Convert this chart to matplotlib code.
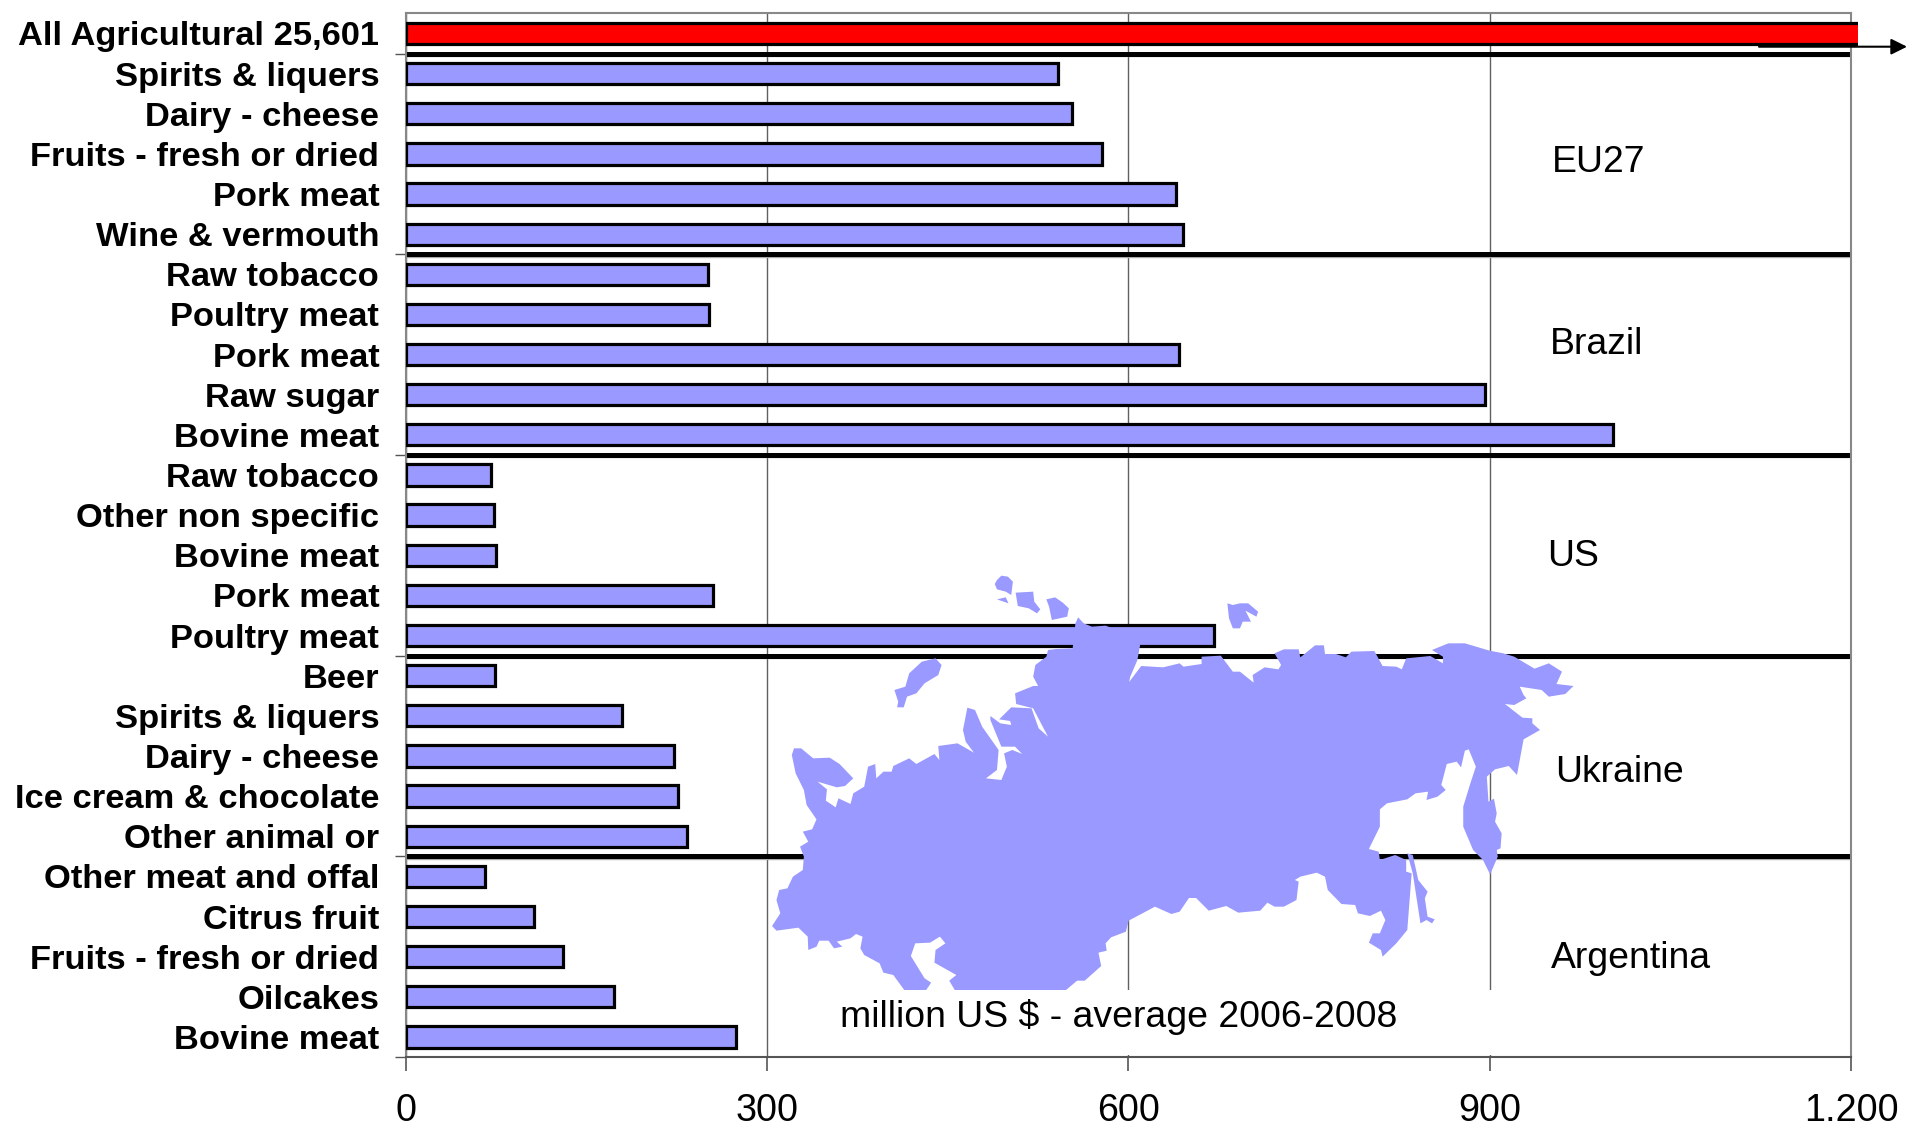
import numpy as np
import matplotlib
matplotlib.use('Agg')
import matplotlib.pyplot as plt
from matplotlib.patches import Polygon, Rectangle

plt.rcParams['font.family'] = ['Liberation Sans', 'DejaVu Sans']

W, H = 1907, 1127

# categories, top to bottom
labels = ['All Agricultural 25,601',
          'Spirits & liquers', 'Dairy - cheese', 'Fruits - fresh or dried', 'Pork meat', 'Wine & vermouth',
          'Raw tobacco', 'Poultry meat', 'Pork meat', 'Raw sugar', 'Bovine meat',
          'Raw tobacco', 'Other non specific', 'Bovine meat', 'Pork meat', 'Poultry meat',
          'Beer', 'Spirits & liquers', 'Dairy - cheese', 'Ice cream & chocolate', 'Other animal or',
          'Other meat and offal', 'Citrus fruit', 'Fruits - fresh or dried', 'Oilcakes', 'Bovine meat']
values = [25601,
          542, 553, 578, 640, 645,
          251, 252, 642, 896, 1002,
          71, 73, 75, 255, 671,
          74, 180, 223, 226, 234,
          66, 107, 131, 173, 274]
x_ticks = [0, 300, 600, 900, 1200]
x_tick_labels = ['0', '300', '600', '900', '1.200']
separators = [0.5, 5.5, 10.5, 15.5, 20.5, 25.5]

regions = ['EU27', 'Brazil', 'US', 'Ukraine', 'Argentina']
region_x = [1552, 1550, 1547, 1555, 1551]
region_y = [163, 345, 556, 773, 958]

map_main = [(580,172),(590,190),(605,200),(630,197),(660,215),(693,255),(688,300),(675,350),(672,368),(695,318),(735,322),(765,310),(772,320),(805,312),(805,290),(840,287),(862,335),(875,335),(900,368),(898,345),(920,322),(945,328),(950,315),(938,280),(955,268),(982,268),(985,292),(1012,256),(1028,256),(1030,282),(1050,282),(1068,292),(1078,275),(1120,273),(1135,318),(1160,320),(1170,328),(1178,295),(1222,288),(1245,310),(1245,290),(1225,270),(1255,250),(1285,250),(1330,272),(1355,280),(1375,290),(1412,326),(1438,310),(1462,335),(1452,372),(1483,378),(1468,402),(1438,410),(1425,390),(1385,380),(1392,405),(1397,415),(1375,435),(1358,432),(1390,473),(1408,475),(1408,490),(1422,510),(1392,538),(1380,645),(1365,618),(1340,628),(1325,650),(1328,725),(1338,716),(1343,760),(1340,785),(1352,820),(1350,865),(1343,870),(1345,890),(1331,943),(1318,900),(1300,870),(1282,800),(1282,740),(1295,670),(1305,620),(1292,568),(1285,572),(1278,622),(1270,605),(1252,612),(1242,675),(1250,690),(1235,710),(1215,720),(1218,695),(1195,700),(1180,718),(1143,730),(1130,748),(1130,800),(1110,867),(1128,875),(1130,900),(1158,885),(1178,900),(1178,935),(1188,940),(1180,1110),(1160,1150),(1135,1190),(1132,1170),(1110,1148),(1117,1120),(1130,1120),(1140,1080),(1132,1052),(1112,1068),(1090,1060),(1085,1035),(1060,1032),(1035,990),(1030,950),(1015,938),(985,950),(975,960),(982,965),(978,1020),(955,1040),(938,1040),(925,1028),(912,1052),(872,1058),(850,1038),(818,1052),(795,1014),(782,1014),(765,1055),(750,1062),(720,1040),(672,1082),(667,1115),(640,1132),(630,1150),(632,1172),(617,1178),(622,1218),(592,1262),(578,1262),(558,1290),(355,1290),(345,1262),(358,1245),(318,1208),(320,1170),(338,1150),(328,1130),(310,1148),(283,1150),(275,1188),(300,1255),(312,1268),(303,1290),(263,1290),(243,1245),(225,1238),(218,1210),(190,1185),(183,1165),(187,1130),(175,1122),(165,1135),(140,1145),(150,1160),(135,1165),(125,1142),(108,1142),(103,1160),(88,1170),(87,1130),(70,1103),(30,1112),(22,1098),(37,1060),(30,1020),(35,990),(50,985),(60,950),(78,930),(80,890),(73,860),(88,845),(78,815),(95,808),(103,778),(85,735),(80,690),(65,640),(58,585),(62,565),(75,565),(97,595),(127,593),(145,612),(170,655),(155,678),(140,682),(105,665),(122,688),(120,722),(138,742),(143,715),(165,732),(170,700),(190,680),(197,620),(210,612),(212,655),(225,635),(240,635),(243,618),(272,595),(285,612),(318,582),(327,600),(325,558),(360,550),(390,578),(375,545),(370,510),(378,443),(392,450),(405,500),(435,570),(432,630),(412,655),(440,660),(450,620),(445,580),(460,570),(478,582),(465,560),(440,560),(420,480),(420,468),(438,490),(458,495),(456,483),(436,478),(458,442),(495,445),(508,505),(525,530),(498,445),(467,432),(465,400),(498,378),(507,378),(498,350),(502,315),(522,290),(525,270),(540,267),(570,265),(575,190)]
map_islands = [
    [(432,60),(440,47),(452,50),(461,65),(458,105),(448,95),(432,88),(428,72)],
    [(432,118),(448,112),(453,130)],
    [(466,98),(498,95),(500,125),(511,148),(505,160),(490,145),(470,138)],
    [(522,118),(538,112),(552,128),(563,145),(560,170),(532,180),(527,140)],
    [(852,130),(862,135),(875,130),(890,130),(908,155),(905,170),(885,152),(895,185),(880,185),(875,205),(862,205),(855,175)],
    [(320,295),(331,315),(325,345),(300,370),(285,400),(268,410),(262,442),(250,442),(252,425),(245,390),(265,380),(272,340),(295,305)],
    [(1180,880),(1190,885),(1200,960),(1217,995),(1212,1015),(1217,1070),(1230,1078),(1225,1090),(1215,1080),(1204,1090),(1190,940)],
]


def fx(px):
    return px / W


def fy(py):
    return 1 - py / H


def crop_to_fig(points):
    # crop coordinates -> figure fraction
    return [(fx(760 + a / 1.823), fy(560 + b / 3)) for a, b in points]


fig = plt.figure(figsize=(W / 100, H / 100), dpi=100)
ax = fig.add_axes([fx(405.6), fy(1057), fx(1851 - 405.6), (1057 - 13.4) / H])

pos = np.arange(len(labels))
colors = ['#FF0000'] + ['#9999FF'] * (len(labels) - 1)
bars = ax.barh(pos, values, height=0.53, color=colors, edgecolor='black', linewidth=2.3, zorder=3)

ax.set_xlim(0, 1200)
ax.set_ylim(len(labels) - 0.5, -0.5)

# red bar runs off the scale, cut just past the axes
clip = Rectangle((0, 0), 1.0045, 1, transform=ax.transAxes)
bars[0].set_clip_path(clip)

ax.set_axisbelow(True)
ax.xaxis.grid(True, color='#606060', linewidth=1)
for s in separators[:-1]:
    ax.plot([0, 1200], [s + 0.06, s + 0.06], color='#aaaaaa', linewidth=1, zorder=2)
    ax.plot([0, 1199], [s, s], color='black', linewidth=3.6, zorder=2.5, solid_capstyle='butt')

ax.set_xticks(x_ticks)
ax.set_xticklabels(x_tick_labels, fontsize=27.2)
ax.set_yticks(pos)
ax.set_yticklabels(labels, fontsize=24.8, fontweight='bold')
for t in ax.get_yticklabels():
    t.set_y(t.get_position()[1])
ax.set_yticks(separators, minor=True)
ax.tick_params(axis='y', which='major', length=0, pad=19)
ax.tick_params(axis='y', which='minor', length=8, width=1, color='#555555')
ax.tick_params(axis='x', length=10, width=1.2, color='#555555', pad=16)
for side in ['top', 'right', 'left']:
    ax.spines[side].set_color('#888888')
    ax.spines[side].set_linewidth(1.5)
ax.spines['bottom'].set_color('#555555')
ax.spines['bottom'].set_linewidth(1.5)

# map sits over the bars
for shape in [map_main] + map_islands:
    fig.add_artist(Polygon(crop_to_fig(shape), closed=True, facecolor='#9999FF', edgecolor='none',
                           transform=fig.transFigure, zorder=5))

# white box behind the unit note
fig.add_artist(Rectangle((fx(770), fy(1055)), fx(740), (1055 - 990) / H, facecolor='white', edgecolor='none',
                         transform=fig.transFigure, zorder=6))
fig.text(fx(840), fy(1017), 'million US $ - average 2006-2008', fontsize=26.9, va='center', ha='left', zorder=7)

for name, x, y in zip(regions, region_x, region_y):
    fig.text(fx(x), fy(y), name, fontsize=26.9, va='center', ha='left', zorder=7)

# arrow: the red bar goes off the scale
fig.add_artist(matplotlib.patches.FancyArrowPatch((fx(1759), fy(46.7)), (fx(1907), fy(46.7)),
                                                  arrowstyle='-|>', mutation_scale=24, shrinkA=0, shrinkB=0,
                                                  color='black', linewidth=1.5,
                                                  transform=fig.transFigure, zorder=7))

fig.savefig('out.png', dpi=100)
